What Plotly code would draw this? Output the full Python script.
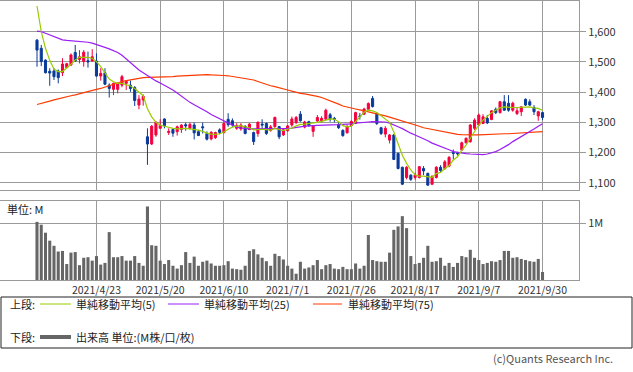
import plotly.graph_objects as go

# ---------------- data ----------------
tick_idx = [14, 29, 44, 59, 74, 89, 104, 119]
tick_labels = ["2021/4/23", "2021/5/20", "2021/6/10", "2021/7/1",
               "2021/7/26", "2021/8/17", "2021/9/7", "2021/9/30"]

open_ = [1572, 1545, 1506, 1469, 1470, 1470, 1464, 1481, 1490, 1531,
         1508, 1501, 1504, 1503, 1503, 1453, 1464, 1423, 1409, 1409,
         1423, 1429, 1423, 1415, 1357, 1374, 1252, 1228, 1258, 1280,
         1311, 1266, 1276, 1269, 1276, 1292, 1280, 1291, 1269, 1285,
         1263, 1245, 1249, 1275, 1266, 1310, 1305, 1280, 1278, 1286,
         1276, 1266, 1263, 1294, 1296, 1273, 1286, 1286, 1258, 1272,
         1291, 1299, 1327, 1284, 1302, 1270, 1304, 1305, 1310, 1325,
         1313, 1293, 1273, 1265, 1289, 1296, 1321, 1327, 1343, 1379,
         1329, 1282, 1261, 1241, 1258, 1197, 1151, 1117, 1125, 1117,
         1117, 1147, 1131, 1095, 1117, 1151, 1147, 1155, 1199, 1198,
         1208, 1232, 1236, 1280, 1291, 1296, 1313, 1309, 1343, 1332,
         1368, 1363, 1340, 1329, 1335, 1376, 1368, 1349, 1321, 1332]
high = [1576, 1556, 1508, 1479, 1479, 1475, 1512, 1497, 1528, 1556,
        1539, 1539, 1534, 1542, 1528, 1479, 1479, 1429, 1431, 1429,
        1457, 1440, 1438, 1420, 1390, 1392, 1280, 1291, 1304, 1310,
        1313, 1280, 1280, 1289, 1293, 1299, 1299, 1299, 1274, 1299,
        1270, 1270, 1269, 1280, 1302, 1330, 1313, 1297, 1297, 1291,
        1297, 1269, 1303, 1310, 1299, 1291, 1319, 1288, 1280, 1291,
        1319, 1321, 1337, 1305, 1305, 1291, 1324, 1320, 1345, 1331,
        1318, 1299, 1277, 1290, 1306, 1335, 1331, 1348, 1366, 1387,
        1332, 1285, 1287, 1261, 1261, 1199, 1153, 1155, 1128, 1133,
        1155, 1155, 1133, 1125, 1155, 1158, 1175, 1188, 1210, 1202,
        1236, 1250, 1294, 1313, 1329, 1327, 1324, 1340, 1349, 1371,
        1390, 1390, 1368, 1351, 1354, 1379, 1376, 1357, 1338, 1335]
low = [1484, 1486, 1462, 1421, 1440, 1429, 1453, 1479, 1486, 1501,
       1495, 1484, 1481, 1501, 1451, 1438, 1423, 1382, 1390, 1396,
       1416, 1407, 1401, 1354, 1343, 1355, 1159, 1225, 1252, 1280,
       1280, 1258, 1252, 1256, 1265, 1272, 1276, 1243, 1255, 1263,
       1240, 1240, 1245, 1260, 1263, 1285, 1285, 1275, 1272, 1260,
       1274, 1225, 1252, 1274, 1258, 1269, 1280, 1244, 1255, 1269,
       1285, 1294, 1302, 1280, 1285, 1252, 1302, 1300, 1308, 1302,
       1300, 1278, 1252, 1263, 1286, 1294, 1309, 1324, 1340, 1349,
       1291, 1258, 1250, 1230, 1175, 1144, 1092, 1111, 1106, 1110,
       1114, 1125, 1089, 1092, 1114, 1133, 1142, 1151, 1177, 1190,
       1206, 1230, 1232, 1274, 1288, 1294, 1294, 1307, 1327, 1329,
       1338, 1335, 1335, 1324, 1321, 1354, 1354, 1324, 1305, 1307]
close = [1539, 1501, 1464, 1463, 1451, 1448, 1493, 1494, 1523, 1503,
         1517, 1532, 1500, 1517, 1453, 1462, 1426, 1412, 1429, 1427,
         1451, 1435, 1412, 1372, 1377, 1386, 1228, 1287, 1300, 1290,
         1289, 1270, 1264, 1285, 1291, 1288, 1293, 1265, 1256, 1282,
         1244, 1267, 1266, 1266, 1296, 1292, 1291, 1289, 1291, 1263,
         1294, 1236, 1300, 1291, 1263, 1285, 1316, 1252, 1275, 1288,
         1311, 1316, 1305, 1301, 1289, 1289, 1316, 1313, 1340, 1311,
         1310, 1282, 1256, 1287, 1303, 1332, 1319, 1344, 1362, 1352,
         1296, 1263, 1280, 1258, 1177, 1147, 1095, 1151, 1111, 1125,
         1153, 1139, 1092, 1120, 1151, 1140, 1169, 1184, 1197, 1196,
         1232, 1247, 1291, 1307, 1324, 1318, 1298, 1338, 1332, 1368,
         1340, 1340, 1363, 1338, 1351, 1357, 1357, 1335, 1335, 1316]

ma5 = [1685, 1600, 1545, 1505, 1476, 1468, 1468, 1479, 1492, 1506,
       1515, 1515, 1515, 1512, 1501, 1484, 1462, 1443, 1434, 1429,
       1429, 1424, 1420, 1412, 1400, 1388, 1345, 1318, 1300, 1290,
       1287, 1283, 1280, 1278, 1280, 1280, 1278, 1277, 1274, 1270,
       1264, 1261, 1260, 1262, 1268, 1277, 1284, 1287, 1289, 1285,
       1282, 1275, 1277, 1277, 1276, 1274, 1280, 1277, 1272, 1277,
       1281, 1288, 1293, 1294, 1296, 1296, 1300, 1303, 1306, 1311,
       1310, 1302, 1289, 1285, 1287, 1302, 1318, 1333, 1340, 1338,
       1332, 1322, 1311, 1300, 1268, 1230, 1191, 1164, 1142, 1126,
       1122, 1122, 1120, 1118, 1130, 1134, 1147, 1156, 1175, 1186,
       1208, 1224, 1247, 1269, 1291, 1307, 1321, 1332, 1340, 1348,
       1351, 1349, 1349, 1349, 1349, 1351, 1351, 1348, 1346, 1339]
ma25 = [1602, 1600, 1595, 1589, 1584, 1577, 1573, 1571, 1570, 1569,
        1567, 1566, 1565, 1562, 1558, 1554, 1548, 1543, 1537, 1531,
        1522, 1510, 1495, 1483, 1473, 1464, 1455, 1445, 1437, 1430,
        1423, 1416, 1407, 1397, 1386, 1376, 1366, 1358, 1351, 1343,
        1335, 1326, 1319, 1311, 1305, 1297, 1290, 1284, 1281, 1279,
        1278, 1278, 1278, 1278, 1278, 1278, 1279, 1279, 1280, 1280,
        1281, 1282, 1285, 1287, 1289, 1289, 1290, 1290, 1291, 1291,
        1291, 1292, 1293, 1293, 1295, 1297, 1299, 1300, 1301, 1302,
        1302, 1302, 1301, 1297, 1290, 1285, 1279, 1271, 1264, 1258,
        1252, 1247, 1239, 1231, 1226, 1219, 1214, 1209, 1203, 1200,
        1198, 1196, 1195, 1194, 1193, 1193, 1195, 1199, 1203, 1210,
        1217, 1226, 1236, 1244, 1252, 1260, 1268, 1278, 1287, 1295]
ma75 = [1359, 1362, 1366, 1370, 1374, 1378, 1381, 1385, 1388, 1391,
        1395, 1398, 1402, 1405, 1409, 1412, 1417, 1422, 1427, 1431,
        1435, 1438, 1441, 1444, 1446, 1448, 1449, 1449, 1449, 1449,
        1449, 1450, 1451, 1453, 1454, 1455, 1456, 1457, 1458, 1459,
        1458, 1457, 1457, 1456, 1455, 1454, 1452, 1449, 1447, 1445,
        1443, 1440, 1435, 1430, 1425, 1421, 1418, 1415, 1411, 1407,
        1403, 1399, 1396, 1394, 1392, 1390, 1386, 1382, 1377, 1371,
        1366, 1360, 1354, 1350, 1346, 1344, 1341, 1338, 1335, 1332,
        1329, 1325, 1321, 1317, 1313, 1309, 1305, 1301, 1297, 1292,
        1287, 1282, 1279, 1276, 1273, 1270, 1268, 1265, 1262, 1260,
        1259, 1258, 1258, 1258, 1258, 1259, 1260, 1260, 1261, 1261,
        1262, 1262, 1263, 1264, 1265, 1267, 1268, 1269, 1269, 1269]

volume_m = [1.02, 0.97, 0.83, 0.69, 0.60, 0.50, 0.51, 0.28, 0.48, 0.49,
            0.26, 0.39, 0.40, 0.34, 0.42, 0.27, 0.30, 0.84, 0.40, 0.40,
            0.42, 0.34, 0.34, 0.42, 0.30, 0.25, 1.29, 0.61, 0.60, 0.34,
            0.28, 0.35, 0.25, 0.20, 0.26, 0.49, 0.30, 0.41, 0.25, 0.32,
            0.34, 0.29, 0.25, 0.25, 0.26, 0.33, 0.20, 0.19, 0.18, 0.25,
            0.51, 0.54, 0.45, 0.39, 0.33, 0.25, 0.46, 0.42, 0.36, 0.25,
            0.20, 0.11, 0.32, 0.20, 0.22, 0.26, 0.35, 0.19, 0.26, 0.28,
            0.20, 0.19, 0.23, 0.19, 0.19, 0.29, 0.20, 0.25, 0.79, 0.35,
            0.33, 0.32, 0.32, 0.48, 0.88, 0.94, 1.12, 0.91, 0.42, 0.28,
            0.30, 0.39, 0.60, 0.32, 0.33, 0.39, 0.25, 0.30, 0.23, 0.30,
            0.42, 0.40, 0.53, 0.39, 0.35, 0.28, 0.30, 0.33, 0.32, 0.35,
            0.51, 0.51, 0.39, 0.40, 0.37, 0.35, 0.33, 0.32, 0.37, 0.14]

# ---------------- styling ----------------
W, H = 633, 372
UP = "#f5003d"
DOWN = "#0a3a9a"
C_MA5 = "#99cc00"
C_MA25 = "#9a1ef5"
C_MA75 = "#ff3a00"
GRID = "#9a9a9a"
VOLC = "#666666"
FONT = "Noto Sans CJK JP"

def fx(px):
    return px / W

def fy(py):
    return 1 - py / H

x = list(range(len(close)))

fig = go.Figure()
fig.add_trace(go.Candlestick(
    x=x, open=open_, high=high, low=low, close=close,
    increasing=dict(line=dict(color=UP, width=1), fillcolor=UP),
    decreasing=dict(line=dict(color=DOWN, width=1), fillcolor=DOWN),
    whiskerwidth=0, xaxis="x", yaxis="y", hoverinfo="skip", showlegend=False))
for vals, col in [(ma75, C_MA75), (ma25, C_MA25), (ma5, C_MA5)]:
    fig.add_trace(go.Scatter(x=x, y=vals, mode="lines",
                             line=dict(color=col, width=1.2),
                             xaxis="x", yaxis="y", hoverinfo="skip",
                             showlegend=False))
fig.add_trace(go.Bar(x=x, y=volume_m, marker_color=VOLC, marker_line_width=0,
                     width=0.72, xaxis="x2", yaxis="y2", hoverinfo="skip",
                     showlegend=False))

xr = [(0 - 37) / 4.248, (579 - 37) / 4.248]
common_x = dict(range=xr, tickvals=tick_idx, showgrid=True, gridcolor=GRID,
                gridwidth=1, showline=True, linecolor=GRID, linewidth=1,
                mirror=True, zeroline=False, ticks="", fixedrange=True)

fig.update_layout(
    width=W, height=H, margin=dict(l=0, r=0, t=0, b=0),
    paper_bgcolor="white", plot_bgcolor="white",
    font=dict(family=FONT, size=11, color="#333333"),
    showlegend=False,
    xaxis=dict(domain=[0, fx(579)], anchor="y", showticklabels=False,
               rangeslider=dict(visible=False), **common_x),
    xaxis2=dict(domain=[0, fx(579)], anchor="y2", showticklabels=True,
                ticktext=tick_labels, tickfont=dict(size=10.5, color="#333333"),
                **common_x),
    yaxis=dict(domain=[fy(190), fy(1)], anchor="x", side="right",
               range=[1075.8, 1701.6], tickvals=[1100, 1200, 1300, 1400, 1500, 1600],
               tickformat=",d", showgrid=True, gridcolor=GRID, gridwidth=1,
               showline=True, linecolor=GRID, ticks="outside", ticklen=6,
               tickcolor=GRID, zeroline=False, fixedrange=True,
               tickfont=dict(size=11, color="#333333")),
    yaxis2=dict(domain=[fy(280), fy(201)], anchor="x2", side="right",
                range=[0, 1.386], tickvals=[1], ticktext=["1M"],
                showgrid=True, gridcolor=GRID, gridwidth=1,
                showline=True, linecolor=GRID, ticks="outside", ticklen=6,
                tickcolor=GRID, zeroline=False, fixedrange=True,
                tickfont=dict(size=11, color="#333333")),
)

shapes = [
    dict(type="rect", xref="paper", yref="paper", x0=fx(1), x1=fx(632),
         y0=fy(297), y1=fy(348), line=dict(color="#222222", width=1)),
    dict(type="line", xref="paper", yref="paper", x0=fx(40), x1=fx(71),
         y0=fy(304), y1=fy(304), line=dict(color=C_MA5, width=1)),
    dict(type="line", xref="paper", yref="paper", x0=fx(168), x1=fx(199),
         y0=fy(304), y1=fy(304), line=dict(color=C_MA25, width=1)),
    dict(type="line", xref="paper", yref="paper", x0=fx(313), x1=fx(342),
         y0=fy(304), y1=fy(304), line=dict(color=C_MA75, width=1)),
    dict(type="line", xref="paper", yref="paper", x0=fx(40), x1=fx(71),
         y0=fy(337), y1=fy(337), line=dict(color=VOLC, width=4)),
]
fig.update_layout(shapes=shapes)

def ann(text, px, py, anchor="left", size=11, color="#222222"):
    fig.add_annotation(text=text, x=fx(px), y=fy(py), xref="paper", yref="paper",
                       xanchor=anchor, yanchor="middle", showarrow=False,
                       font=dict(family=FONT, size=size, color=color))

ann("単位: M", 5, 209)
ann("上段:", 8, 304)
ann("単純移動平均(5)", 74, 304)
ann("単純移動平均(25)", 202, 304)
ann("単純移動平均(75)", 346, 304)
ann("下段:", 8, 337)
ann("出来高 単位:(M株/口/枚)", 74, 337)
ann("(c)Quants Research Inc.", 615, 358, anchor="right", size=11, color="#555555")

fig.write_html("out.html", config={"displayModeBar": False},
               post_script="document.body.style.margin='0';document.body.style.overflow='hidden';")
